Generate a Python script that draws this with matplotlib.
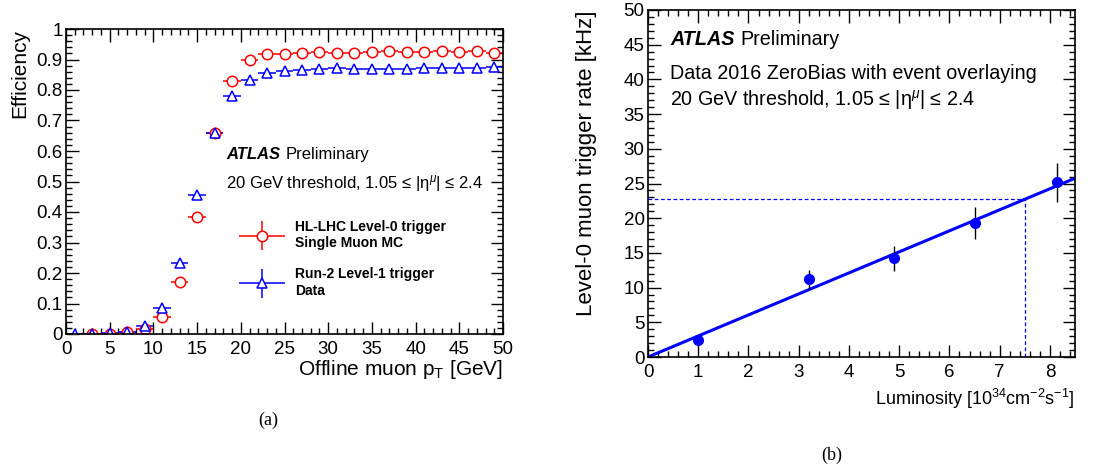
import matplotlib
matplotlib.use("Agg")
import matplotlib.pyplot as plt
import numpy as np
from matplotlib.container import ErrorbarContainer
from matplotlib.legend_handler import HandlerErrorbar
from matplotlib.ticker import MultipleLocator

plt.rcParams['font.family'] = ['Liberation Sans', 'DejaVu Sans']
plt.rcParams['mathtext.fontset'] = 'custom'
plt.rcParams['mathtext.rm'] = 'Liberation Sans'
plt.rcParams['mathtext.it'] = 'Liberation Sans:italic'

# ---- panel (a): efficiency vs pT ----
pt_red = [3, 5, 7, 9, 11, 13, 15, 17, 19, 21, 23, 25, 27, 29, 31, 33, 35, 37, 39, 41, 43, 45, 47, 49]
eff_red = [0.0, 0.001, 0.005, 0.015, 0.055, 0.17, 0.385, 0.66, 0.83, 0.897, 0.917, 0.919, 0.921,
           0.926, 0.92, 0.922, 0.926, 0.929, 0.924, 0.923, 0.928, 0.926, 0.928, 0.921]
pt_blue = [1, 3, 5, 7, 9, 11, 13, 15, 17, 19, 21, 23, 25, 27, 29, 31, 33, 35, 37, 39, 41, 43, 45, 47, 49]
eff_blue = [0.0, 0.0, 0.002, 0.008, 0.025, 0.085, 0.233, 0.455, 0.66, 0.779, 0.833, 0.856, 0.862,
            0.867, 0.869, 0.871, 0.87, 0.87, 0.87, 0.87, 0.871, 0.873, 0.873, 0.873, 0.874]
bin_half = 1.0
eff_ticks = ['0', '0.1', '0.2', '0.3', '0.4', '0.5', '0.6', '0.7', '0.8', '0.9', '1']

# ---- panel (b): rate vs luminosity ----
lumi = [1.0, 3.2, 4.9, 6.5, 8.15]
rate = [2.5, 11.2, 14.2, 19.3, 25.2]
rate_err = [0.4, 1.4, 1.8, 2.3, 2.8]
fit_slope = 3.03
lumi_target = 7.5

W, H = 1112, 474
fig = plt.figure(figsize=(W / 100, H / 100), dpi=100)


def px_axes(x0, y0, x1, y1):
    return fig.add_axes([x0 / W, 1 - y1 / H, (x1 - x0) / W, (y1 - y0) / H])


def root_ticks(ax):
    ax.tick_params(which='both', direction='in', top=True, right=True, labelsize=13.5)
    ax.tick_params(axis='x', which='both', pad=5)
    ax.tick_params(axis='y', which='both', pad=2.5)
    ax.tick_params(which='major', length=9, width=1)
    ax.tick_params(which='minor', length=4.5, width=1)
    for s in ax.spines.values():
        s.set_linewidth(1.2)


def atlas_label(ax, x, y, size):
    t = ax.text(x, y, 'ATLAS', transform=ax.transAxes, fontsize=size, fontweight='bold',
                fontstyle='italic', ha='left', va='center')
    ax.annotate('Preliminary', xy=(1, 0.5), xycoords=t, xytext=(4, 0), textcoords='offset points',
                fontsize=size, ha='left', va='center')


# ===== left =====
ax1 = px_axes(66, 29, 503, 334)
e1 = ax1.errorbar(pt_red, eff_red, xerr=bin_half, yerr=0.003, fmt='o', color='red', mfc='white',
                  mec='red', ms=7.5, mew=1.1, elinewidth=1.1, capsize=0)
e2 = ax1.errorbar(pt_blue, eff_blue, xerr=bin_half, yerr=0.003, fmt='^', color='blue', mfc='white',
                  mec='blue', ms=7.5, mew=1.1, elinewidth=1.1, capsize=0)
ax1.set_xlim(0, 50)
ax1.set_ylim(0, 1)
ax1.xaxis.set_major_locator(MultipleLocator(5))
ax1.xaxis.set_minor_locator(MultipleLocator(1))
ax1.set_yticks(np.arange(0, 1.01, 0.1))
ax1.set_yticklabels(eff_ticks)
ax1.yaxis.set_minor_locator(MultipleLocator(0.02))
root_ticks(ax1)
ax1.set_ylabel('Efficiency', fontsize=15, loc='top', labelpad=5)
ax1.set_xlabel('Offline muon p$_{\\mathregular{T}}$ [GeV]', fontsize=15, loc='right', labelpad=0)

atlas_label(ax1, 0.366, 0.59, 12)
ax1.text(0.366, 0.495, '20 GeV threshold, 1.05 ≤ |η$^{\\mu}$| ≤ 2.4', transform=ax1.transAxes,
         fontsize=12, ha='left', va='center')

leg = ax1.legend([e1, e2], ['HL-LHC Level-0 trigger\nSingle Muon MC', 'Run-2 Level-1 trigger\nData'],
                 loc='upper left', bbox_to_anchor=(0.365, 0.415), frameon=False,
                 prop={'weight': 'bold', 'size': 10}, handlelength=3.4, labelspacing=1.25,
                 handletextpad=0.7,
                 handler_map={ErrorbarContainer: HandlerErrorbar(xerr_size=1.65, yerr_size=1.05)})

fig.text(268 / W, 1 - 420 / H, '(a)', fontsize=13, family='Liberation Serif', ha='center', va='center')

# ===== right =====
ax2 = px_axes(648, 10, 1075, 357)
xs = np.array([0, 8.5])
ax2.plot(xs, fit_slope * xs, color='blue', lw=2.2, zorder=2)
ax2.errorbar(lumi, rate, yerr=rate_err, fmt='o', color='blue', ecolor='black', ms=7,
             elinewidth=1, capsize=0, zorder=3)
y_target = fit_slope * lumi_target
ax2.plot([0, lumi_target], [y_target, y_target], color='blue', lw=0.9, ls=(0, (3, 2)))
ax2.plot([lumi_target, lumi_target], [0, y_target], color='blue', lw=0.9, ls=(0, (3, 2)))
ax2.set_xlim(0, 8.5)
ax2.set_ylim(0, 50)
ax2.xaxis.set_major_locator(MultipleLocator(1))
ax2.xaxis.set_minor_locator(MultipleLocator(0.2))
ax2.yaxis.set_major_locator(MultipleLocator(5))
ax2.yaxis.set_minor_locator(MultipleLocator(1))
root_ticks(ax2)
ax2.set_ylabel('Level-0 muon trigger rate [kHz]', fontsize=16, loc='top', labelpad=19)
ax2.set_xlabel('Luminosity [10$^{34}$cm$^{-2}$s$^{-1}$]', fontsize=13, loc='right', labelpad=4)

atlas_label(ax2, 0.052, 0.916, 14.2)
ax2.text(0.052, 0.818, 'Data 2016 ZeroBias with event overlaying', transform=ax2.transAxes,
         fontsize=14.2, ha='left', va='center')
ax2.text(0.052, 0.74, '20 GeV threshold, 1.05 ≤ |η$^{\\mu}$| ≤ 2.4', transform=ax2.transAxes,
         fontsize=14.2, ha='left', va='center')

fig.text(832 / W, 1 - 455 / H, '(b)', fontsize=13, family='Liberation Serif', ha='center', va='center')

fig.savefig('out.png', dpi=100)
